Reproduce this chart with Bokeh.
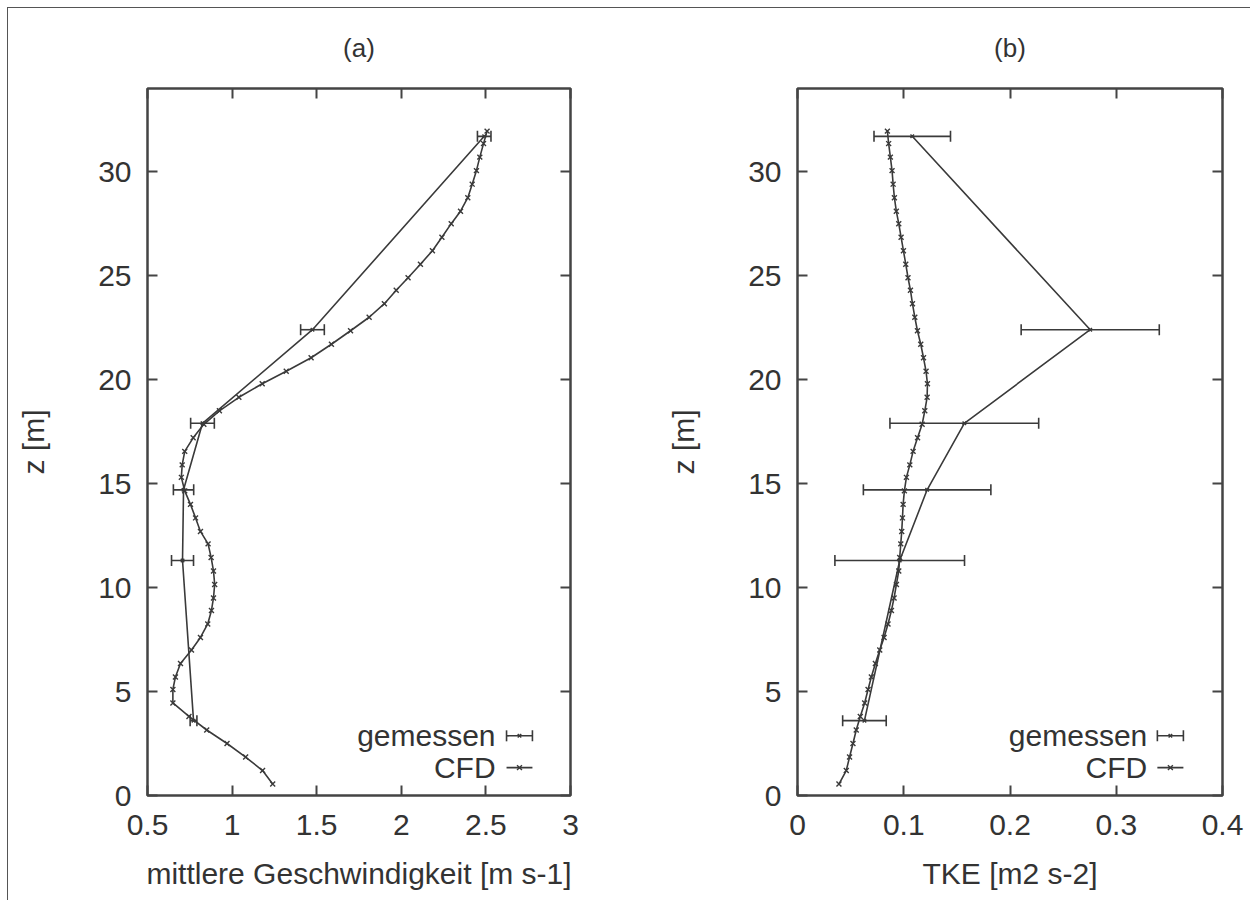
from bokeh.plotting import figure
from bokeh.models import (LinearAxis, FixedTicker, NumeralTickFormatter, Range1d, Label,
                          Whisker, TeeHead, ColumnDataSource, CustomJSTickFormatter)
from bokeh.layouts import row
from bokeh.embed import file_html
from bokeh.resources import INLINE

# ---------------- data ----------------
cfd_z = [0.55, 1.2, 1.85, 2.5, 3.15, 3.8, 4.45, 5.1, 5.7, 6.35, 7.0, 7.6, 8.25, 8.9, 9.5,
         10.15, 10.8, 11.45, 12.1, 12.7, 13.35, 14.0, 14.65, 15.3, 15.9, 16.55, 17.2, 17.85,
         18.5, 19.15, 19.8, 20.4, 21.05, 21.7, 22.35, 23.0, 23.65, 24.3, 24.9, 25.55, 26.2,
         26.85, 27.5, 28.1, 28.75, 29.4, 30.05, 30.7, 31.35, 31.95]
cfd_u = [1.24, 1.18, 1.08, 0.97, 0.85, 0.745, 0.65, 0.65, 0.665, 0.695, 0.76, 0.813, 0.856,
         0.878, 0.89, 0.897, 0.89, 0.876, 0.858, 0.813, 0.784, 0.754, 0.72, 0.70, 0.705, 0.72,
         0.77, 0.833, 0.925, 1.04, 1.178, 1.32, 1.467, 1.587, 1.70, 1.81, 1.90, 1.97, 2.04,
         2.113, 2.184, 2.24, 2.295, 2.35, 2.393, 2.419, 2.444, 2.464, 2.486, 2.507]
cfd_tke = [0.039, 0.0459, 0.049, 0.0522, 0.0553, 0.0591, 0.0632, 0.0664, 0.0695, 0.0733,
           0.0774, 0.0815, 0.0852, 0.0884, 0.0909, 0.0931, 0.0953, 0.0962, 0.0972, 0.0981,
           0.0988, 0.0994, 0.1006, 0.1025, 0.1057, 0.1088, 0.113, 0.1173, 0.1198, 0.122,
           0.1223, 0.121, 0.1186, 0.116, 0.1129, 0.1104, 0.1082, 0.1063, 0.104, 0.1019,
           0.0997, 0.0975, 0.0953, 0.093, 0.0912, 0.090, 0.089, 0.0874, 0.0858, 0.0846]

meas_z = [3.6, 11.3, 14.7, 17.9, 22.4, 31.7]
meas_u = [0.772, 0.707, 0.713, 0.825, 1.475, 2.49]
meas_u_err = [0.02, 0.065, 0.06, 0.07, 0.07, 0.04]
meas_tke = [0.063, 0.0962, 0.122, 0.157, 0.2755, 0.108]
meas_tke_err = [0.0205, 0.061, 0.06, 0.07, 0.065, 0.036]

z_ticks = [0, 5, 10, 15, 20, 25, 30]
u_ticks = [0.5, 1, 1.5, 2, 2.5, 3]
tke_ticks = [0, 0.1, 0.2, 0.3, 0.4]

titles = ["(a)", "(b)"]
xlabels = ["mittlere Geschwindigkeit [m s-1]", "TKE [m2 s-2]"]
ylabel = "z [m]"
legend_labels = ["gemessen", "CFD"]

# ---------------- style ----------------
FONT = "Liberation Sans"
INK = "#3a3a3a"
TXT = "#333333"
FRAME = "#444444"


def make_panel(xr, xticks, xlabel, title, xdata, xerr, cfd_x, width, bl, br, leg):
    p = figure(width=width, height=892, x_range=Range1d(*xr), y_range=Range1d(0, 34),
               output_backend="svg", toolbar_location=None,
               min_border_left=bl, min_border_right=br, min_border_top=77,
               min_border_bottom=105, x_axis_location=None, y_axis_location=None)
    p.grid.visible = False
    p.outline_line_color = FRAME
    p.outline_line_width = 2.5
    p.background_fill_color = "white"
    p.border_fill_color = "white"

    p.title.text = title
    p.title.align = "center"
    p.title.vertical_align = "top"
    p.title.text_font = FONT
    p.title.text_font_size = "26px"
    p.title.text_font_style = "normal"
    p.title.text_color = TXT
    p.title.standoff = 48

    def style(ax, labels=True):
        ax.axis_line_color = None
        ax.major_tick_in = 10
        ax.major_tick_out = 0
        ax.major_tick_line_color = FRAME
        ax.major_tick_line_width = 2
        ax.minor_tick_line_color = None
        ax.major_label_text_font = FONT
        ax.major_label_text_color = TXT
        ax.major_label_text_font_size = "30px"
        if not labels:
            ax.formatter = CustomJSTickFormatter(code="return ''")
            ax.major_label_standoff = 0
        ax.axis_label_text_font = FONT
        ax.axis_label_text_font_size = "30px"
        ax.axis_label_text_font_style = "normal"
        ax.axis_label_text_color = TXT

    xb = LinearAxis(ticker=FixedTicker(ticks=xticks), formatter=NumeralTickFormatter(format="0.[0]"),
                    axis_label=xlabel)
    style(xb)
    xb.major_label_standoff = 19
    xb.axis_label_standoff = 19
    p.add_layout(xb, "below")
    xa = LinearAxis(ticker=FixedTicker(ticks=xticks))
    style(xa, labels=False)
    p.add_layout(xa, "above")
    yl = LinearAxis(ticker=FixedTicker(ticks=z_ticks), axis_label=ylabel)
    style(yl)
    yl.major_label_standoff = 16
    yl.axis_label_standoff = 45
    p.add_layout(yl, "left")
    yr = LinearAxis(ticker=FixedTicker(ticks=z_ticks))
    style(yr, labels=False)
    p.add_layout(yr, "right")

    # CFD
    p.line(cfd_x, cfd_z, line_color=INK, line_width=1.6)
    p.scatter(cfd_x, cfd_z, marker="x", size=7, line_color=INK, line_width=1.4)

    # measured
    src = ColumnDataSource(dict(z=meas_z, x=xdata,
                                lo=[a - b for a, b in zip(xdata, xerr)],
                                hi=[a + b for a, b in zip(xdata, xerr)]))
    p.line("x", "z", source=src, line_color=INK, line_width=1.6)
    w = Whisker(source=src, base="z", lower="lo", upper="hi", dimension="width",
                line_color=INK, line_width=1.6,
                lower_head=TeeHead(size=11, line_color=INK, line_width=1.6),
                upper_head=TeeHead(size=11, line_color=INK, line_width=1.6))
    p.add_layout(w)
    p.scatter("x", "z", source=src, marker="x", size=5, line_color=INK, line_width=1.4)

    # legend (gnuplot style: text then sample)
    tx, s0, s1, y1, y2 = leg
    for lab, yy in zip(legend_labels, [y1, y2]):
        p.add_layout(Label(x=tx, y=yy, text=lab, text_align="right", text_baseline="middle",
                           text_font=FONT, text_font_size="30px", text_color=TXT))
    lsrc = ColumnDataSource(dict(z=[y1], lo=[s0], hi=[s1]))
    p.add_layout(Whisker(source=lsrc, base="z", lower="lo", upper="hi", dimension="width",
                         line_color=INK, line_width=1.6,
                         lower_head=TeeHead(size=11, line_color=INK, line_width=1.6),
                         upper_head=TeeHead(size=11, line_color=INK, line_width=1.6)))
    p.scatter([(s0 + s1) / 2], [y1], marker="x", size=5, line_color=INK, line_width=1.4)
    p.segment([s0], [y2], [s1], [y2], line_color=INK, line_width=1.6)
    p.scatter([(s0 + s1) / 2], [y2], marker="x", size=7, line_color=INK, line_width=1.4)
    return p


pa = make_panel((0.5, 3), u_ticks, xlabels[0], titles[0], meas_u, meas_u_err, cfd_u,
                645, 139, 83, (2.557, 2.622, 2.775, 2.87, 1.34))
pb = make_panel((0, 0.4), tke_ticks, xlabels[1], titles[1], meas_tke, meas_tke_err, cfd_tke,
                597, 144, 28, (0.3292, 0.3387, 0.3632, 2.87, 1.34))

layout = row(pa, pb, styles={"border-top": "1.5px solid #555", "border-left": "1.5px solid #555",
                             "margin-top": "6.5px", "margin-left": "6.5px"})
open("out.html", "w").write(file_html(layout, INLINE))
